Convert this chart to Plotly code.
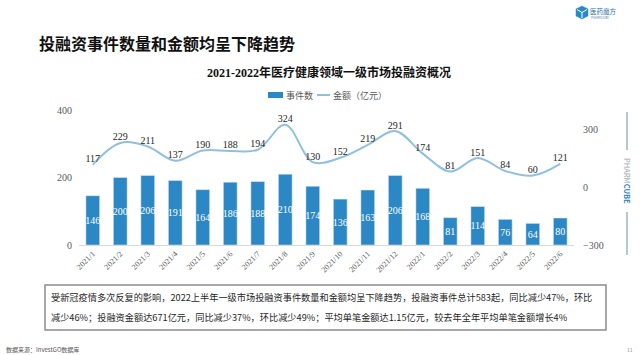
import plotly.graph_objects as go

months = ["2021/1", "2021/2", "2021/3", "2021/4", "2021/5", "2021/6", "2021/7", "2021/8", "2021/9",
          "2021/10", "2021/11", "2021/12", "2022/1", "2022/2", "2022/3", "2022/4", "2022/5", "2022/6"]
event_counts = [146, 200, 206, 191, 164, 186, 188, 210, 174, 136, 163, 206, 168, 81, 114, 76, 64, 80]
amounts = [117, 229, 211, 137, 190, 188, 194, 324, 130, 152, 219, 291, 174, 81, 151, 84, 60, 121]
left_ticks = [0, 200, 400]
right_ticks = [-300, 0, 300]

W, H = 640, 355
L, R, T, B = 79, 66, 110, 110
PW, PH = W - L - R, H - T - B


def px(x):
    return (x - L) / PW


def py(y):
    return (H - B - y) / PH


SERIF = "Liberation Serif, Noto Sans CJK SC, serif"
SANS = "Noto Sans CJK SC, sans-serif"
BAR_C = "#2b88c4"
LINE_C = "#8fc0e2"

fig = go.Figure()
fig.add_trace(go.Bar(
    x=months, y=event_counts, name="事件数", marker_color=BAR_C, width=0.5,
    text=[str(v) for v in event_counts], textposition="inside", insidetextanchor="middle",
    textangle=0, textfont=dict(family=SERIF, size=10, color="white"), cliponaxis=False,
    yaxis="y",
))
fig.add_trace(go.Scatter(
    x=months, y=amounts, name="金额（亿元）", mode="lines+text",
    line=dict(color=LINE_C, width=2, shape="spline", smoothing=1),
    text=[str(v) for v in amounts], textposition="top center",
    textfont=dict(family=SERIF, size=10, color="#262626"), cliponaxis=False,
    yaxis="y2",
))

annotations = [
    dict(text="<b>投融资事件数量和金额均呈下降趋势</b>", x=px(37), y=py(43), xanchor="left", yanchor="middle",
         font=dict(family=SANS, size=16, color="#111111")),
    dict(text="<b>2021-2022年医疗健康领域一级市场投融资概况</b>", x=px(329), y=py(72), xanchor="center",
         yanchor="middle", font=dict(family=SERIF, size=12, color="#111111")),
    dict(text="事件数", x=px(284), y=py(95), xanchor="left", yanchor="middle",
         font=dict(family=SANS, size=9, color="#595959")),
    dict(text="金额（亿元）", x=px(331), y=py(95), xanchor="left", yanchor="middle",
         font=dict(family=SANS, size=9, color="#595959")),
    dict(text="受新冠疫情多次反复的影响，2022上半年一级市场投融资事件数量和金额均呈下降趋势，投融资事件总计583起，同比减少47%，环比",
         x=px(49), y=py(297), xanchor="left", yanchor="middle",
         font=dict(family=SANS, size=9.2, color="#262626")),
    dict(text="减少46%；投融资金额达671亿元，同比减少37%，环比减少49%；平均单笔金额达1.15亿元，较去年全年平均单笔金额增长4%",
         x=px(49), y=py(317), xanchor="left", yanchor="middle",
         font=dict(family=SANS, size=9.2, color="#262626")),
    dict(text="数据来源：InvestGO数据库", x=px(4), y=py(349), xanchor="left", yanchor="middle",
         font=dict(family=SANS, size=6, color="#555555")),
    dict(text="11", x=px(630), y=py(349), xanchor="center", yanchor="middle",
         font=dict(family=SANS, size=5, color="#888888")),
    dict(text="医药魔方", x=px(588), y=py(11), xanchor="left", yanchor="middle",
         font=dict(family=SANS, size=6.5, color="#2b6fa8")),
    dict(text="PHARMCUBE", x=px(589), y=py(18), xanchor="left", yanchor="middle",
         font=dict(family=SANS, size=3, color="#5a87b0")),
    dict(text="PHARM<b><span style='color:#2b7fb8'>CUBE</span></b>", x=px(628), y=py(181), xanchor="center",
         yanchor="middle", textangle=90, font=dict(family=SANS, size=7.5, color="#9aa9b6")),
]
for a in annotations:
    a.update(xref="paper", yref="paper", showarrow=False)

shapes = [
    # legend swatches
    dict(type="rect", x0=px(268), x1=px(283), y0=py(98), y1=py(92), fillcolor=BAR_C, line=dict(width=0)),
    dict(type="line", x0=px(317), x1=px(330), y0=py(95), y1=py(95), line=dict(color=LINE_C, width=2)),
    # text box
    dict(type="rect", x0=px(45), x1=px(606), y0=py(285), y1=py(330), line=dict(color="#8c8c8c", width=1.5),
         fillcolor="rgba(0,0,0,0)"),
    # right side decoration
    dict(type="line", x0=px(627), x1=px(627), y0=py(112), y1=py(150), line=dict(color="#7fa3bf", width=1.2)),
    dict(type="line", x0=px(627), x1=px(627), y0=py(212), y1=py(255), line=dict(color="#7fa3bf", width=1.2)),
    # logo cube
    dict(type="path",
         path="M {0},{1} L {2},{3} L {2},{4} L {0},{5} L {6},{4} L {6},{3} Z".format(
             px(582), py(6), px(588), py(9), py(16), py(19), px(576)),
         fillcolor="#2a8ac8", line=dict(color="#2a8ac8", width=0.5)),
    dict(type="path",
         path="M {0},{1} L {2},{3} L {4},{1} M {2},{3} L {2},{5}".format(
             px(577), py(9.5), px(582), py(12.5), px(587), py(18)),
         line=dict(color="white", width=1)),
]
for s in shapes:
    s.update(xref="paper", yref="paper")

fig.update_layout(
    width=W, height=H, autosize=False,
    margin=dict(l=L, r=R, t=T, b=B, pad=0),
    paper_bgcolor="white", plot_bgcolor="white",
    font=dict(family=SERIF, size=10, color="#595959"),
    bargap=0.5,
    uniformtext=dict(minsize=10, mode="show"),
    showlegend=False,
    xaxis=dict(type="category", tickangle=-45, showgrid=False, showline=True, linecolor="#d9d9d9",
               linewidth=1, ticks="", tickfont=dict(family=SERIF, size=8, color="#595959"),
               range=[-0.5, len(months) - 0.5]),
    yaxis=dict(range=[0, 400], tickvals=left_ticks, showgrid=False, zeroline=False, showline=False,
               ticks="", tickfont=dict(family=SERIF, size=10, color="#595959"), ticklabelstandoff=6),
    yaxis2=dict(range=[-300, 400], tickvals=right_ticks, overlaying="y", side="right", showgrid=False,
                zeroline=False, showline=False, ticks="",
                tickfont=dict(family=SERIF, size=10, color="#595959"), ticklabelstandoff=8),
    annotations=annotations,
    shapes=shapes,
)

fig.write_html("out.html", config={"displayModeBar": False},
               post_script="document.body.style.margin='0';document.body.style.overflow='hidden';")
